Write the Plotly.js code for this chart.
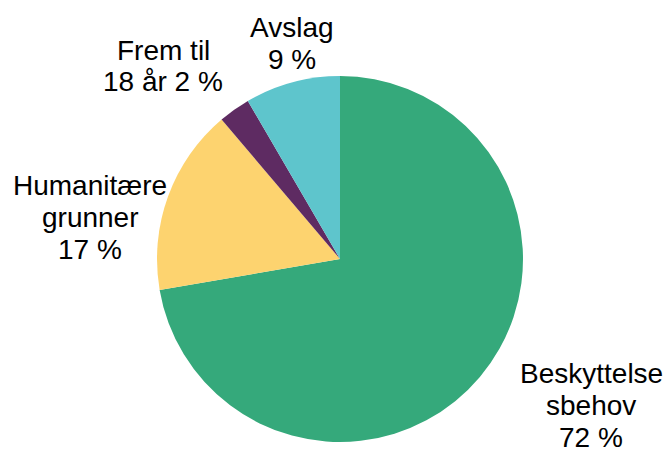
<!DOCTYPE html>
<html>
<head>
<meta charset="utf-8">
<script src="https://cdn.plot.ly/plotly-3.0.1.min.js"></script>
<style>html,body{margin:0;padding:0;background:#fff;}#chart{width:669px;height:452px;}</style>
</head>
<body>
<div id="chart"></div>
<script>
// Data
const categories = ["Beskyttelsesbehov", "Humanitære grunner", "Frem til 18 år", "Avslag"];
const values = [72.3, 16.5, 2.8, 8.4];
const labelTexts = ["Beskyttelse<br>sbehov<br>72 %", "Humanitære<br>grunner<br>17 %", "Frem til<br>18 år 2 %", "Avslag<br>9 %"];
const colors = ["#35a97b", "#fdd36f", "#5e2b62", "#5ec5cc"];

// Label placement (pixel centres of each label's first line, and line spacing)
const W = 669, H = 452;
const labelPos = [[591, 373], [90, 185], [163, 50], [292, 27]];
const lineStep = 32;

const annotations = [];
labelTexts.forEach((t, i) => {
  t.split("<br>").forEach((line, j) => {
    annotations.push({
      text: line,
      xref: "paper", yref: "paper",
      x: labelPos[i][0] / W,
      y: 1 - (labelPos[i][1] + j * lineStep) / H,
      xanchor: "center", yanchor: "middle",
      showarrow: false,
      font: {family: "Liberation Sans, Arial, sans-serif", size: 28, color: "#000"}
    });
  });
});

const trace = {
  type: "pie",
  labels: categories,
  values: values,
  sort: false,
  direction: "clockwise",
  rotation: 0,
  marker: {colors: colors, line: {width: 0}},
  textinfo: "none",
  hoverinfo: "label+percent",
  domain: {x: [157 / W, 523 / W], y: [1 - 442 / H, 1 - 76 / H]}
};

Plotly.newPlot("chart", [trace], {
  width: W, height: H,
  margin: {l: 0, r: 0, t: 0, b: 0},
  showlegend: false,
  paper_bgcolor: "#fff",
  annotations: annotations,
  font: {family: "Liberation Sans, Arial, sans-serif"}
}, {displayModeBar: false, staticPlot: true});
</script>
</body>
</html>
